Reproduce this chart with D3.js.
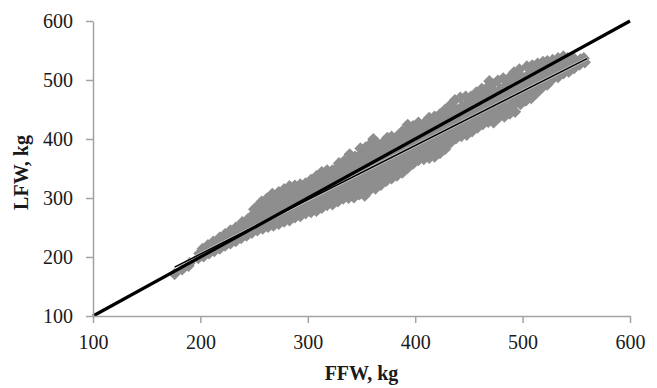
<!DOCTYPE html>
<html>
<head>
<meta charset="utf-8">
<script src="https://cdn.jsdelivr.net/npm/d3@7"></script>
<style>
	body { margin: 0; background: #fff; }
	svg text { font-family: "Liberation Serif", "Times New Roman", serif; fill: #1a1a1a; }
</style>
</head>
<body>
<svg id="scatter" width="657" height="388"></svg>
<script>
var ffw = [
	176,
	183,
	189, 190,
	198, 199,
	203, 204, 202,
	208, 209, 207,
	213, 214, 212,
	218, 219, 217, 218,
	223, 224, 222, 223,
	228, 229, 227, 228,
	233, 234, 232, 233,
	238, 239, 237, 238, 239,
	243, 244, 242, 243, 244,
	248, 249, 247, 248, 249, 250,
	253, 254, 252, 253, 254, 252,
	258, 259, 257, 258, 259, 257,
	263, 264, 262, 263, 264, 262,
	268, 269, 267, 268, 269, 267,
	273, 274, 272, 273, 274, 272, 273,
	278, 279, 277, 278, 279, 277, 278,
	283, 284, 282, 283, 284, 282, 283,
	288, 289, 287, 288, 289, 287, 288,
	293, 294, 292, 293, 294, 292, 293,
	298, 299, 297, 298, 299, 297, 298,
	303, 304, 302, 303, 304, 302, 303,
	308, 309, 307, 308, 309, 307, 308,
	313, 314, 312, 313, 314, 312, 313,
	318, 319, 317, 318, 319, 317, 318,
	323, 324, 322, 323, 324, 322, 323,
	328, 329, 327, 328, 329, 327, 328, 329,
	333, 334, 332, 333, 334, 332, 333, 334,
	338, 339, 337, 338, 339, 337, 338, 339,
	343, 344, 342, 343, 344, 342, 343, 344,
	348, 349, 347, 348, 349, 347, 348, 349,
	353, 354, 352, 353, 354, 352, 353, 354,
	358, 359, 357, 358, 359, 357, 358, 359,
	361,
	363, 364, 362, 363, 364, 362, 363, 364,
	368, 369, 367, 368, 369, 367, 368, 369,
	373, 374, 372, 373, 374, 372, 373, 374,
	378, 379, 377, 378, 379, 377, 378,
	383, 384, 382, 383, 384, 382, 383,
	388, 389, 387, 388, 389, 387, 388,
	393, 394, 392, 393, 394, 392, 393,
	398, 399, 397, 398, 399, 397, 398,
	403, 404, 402, 403, 404, 402, 403,
	408, 409, 407, 408, 409, 407, 408,
	413, 414, 412, 413, 414, 412, 413,
	418, 419, 417, 418, 419, 417, 418,
	423, 424, 422, 423, 424, 422, 423,
	428, 429, 427, 428, 429, 427, 428,
	433, 434, 432, 433, 434, 432, 433,
	438, 439, 437, 438, 439, 437,
	443, 444, 442, 443, 444, 442,
	448, 449, 447, 448, 449, 447,
	453, 454, 452, 453, 454, 452,
	458, 459, 457, 458, 459, 457,
	463, 464, 462, 463, 464, 462,
	469,
	468, 469, 467, 468, 469, 467,
	473, 474, 472, 473, 474, 472,
	478, 479, 477, 478, 479, 477,
	483, 484, 482, 483, 484, 482,
	488, 489, 487, 488, 489, 487,
	493, 494, 492, 493, 494, 492,
	498, 499, 497, 498, 499, 497,
	503, 504, 502, 503, 504,
	508, 509, 507, 508, 509,
	513, 514, 512, 513, 514,
	518, 519, 517, 518, 519,
	523, 524, 522, 523,
	528, 529, 527, 528,
	533, 534, 532, 533,
	538, 539, 537, 538,
	543, 544, 542,
	548, 549, 547,
	553, 554,
	558, 557
];
var lfw = [
	171,
	179,
	185, 190,
	198, 206,
	201, 209, 214,
	206, 213, 220,
	210, 218, 226,
	214, 221, 228, 233,
	219, 226, 233, 239,
	223, 230, 238, 245,
	227, 235, 243, 250,
	232, 240, 247, 254, 259,
	236, 244, 252, 259, 264,
	241, 249, 257, 265, 272, 281,
	245, 253, 262, 270, 278, 284,
	248, 257, 266, 275, 284, 294,
	251, 260, 270, 280, 290, 299,
	253, 263, 273, 284, 295, 307,
	256, 266, 276, 286, 296, 304, 310,
	260, 269, 279, 289, 299, 307, 315,
	262, 273, 283, 293, 302, 310, 320,
	267, 276, 286, 296, 305, 313, 321,
	269, 280, 290, 300, 309, 317, 323,
	274, 283, 293, 303, 312, 320, 325,
	276, 287, 297, 307, 316, 324, 331,
	278, 291, 301, 311, 320, 328, 337,
	283, 294, 304, 314, 324, 333, 344,
	288, 297, 307, 318, 328, 337, 347,
	289, 300, 311, 322, 332, 342, 347,
	294, 303, 314, 325, 335, 345, 352, 359,
	299, 306, 317, 328, 339, 349, 357, 363,
	300, 309, 320, 331, 342, 353, 362, 374,
	301, 312, 323, 334, 346, 357, 367, 370,
	306, 316, 327, 338, 350, 361, 372, 384,
	304, 320, 331, 343, 355, 366, 377, 386,
	314, 324, 335, 347, 359, 370, 381, 393,
	400,
	316, 328, 339, 351, 363, 374, 384, 394,
	322, 332, 344, 356, 368, 379, 389, 392,
	329, 337, 349, 361, 373, 384, 393, 402,
	333, 344, 356, 368, 380, 392, 404,
	338, 350, 362, 374, 386, 397, 404,
	343, 357, 368, 380, 391, 403, 413,
	351, 363, 374, 385, 396, 408, 424,
	358, 368, 379, 390, 401, 412, 422,
	364, 372, 383, 394, 405, 416, 428,
	366, 376, 387, 398, 409, 420, 426,
	368, 380, 391, 402, 413, 424, 436,
	370, 384, 395, 406, 417, 428, 438,
	376, 388, 400, 412, 423, 434, 442,
	383, 393, 405, 417, 429, 440, 450,
	394, 400, 411, 423, 435, 446, 458,
	401, 411, 423, 436, 449, 466,
	405, 418, 430, 443, 456, 470,
	407, 422, 434, 447, 460, 472,
	413, 426, 438, 451, 464, 472,
	419, 430, 442, 455, 468, 479,
	425, 434, 446, 459, 472, 485,
	498,
	429, 440, 452, 464, 476, 487,
	428, 444, 456, 468, 480, 493,
	437, 448, 460, 472, 484, 499,
	438, 451, 464, 477, 490, 503,
	443, 455, 468, 481, 494, 503,
	446, 462, 475, 488, 500, 513,
	459, 469, 481, 494, 506, 518,
	465, 479, 492, 505, 523,
	469, 485, 498, 511, 525,
	478, 491, 503, 515, 528,
	487, 497, 508, 519, 531,
	492, 505, 518, 532,
	502, 512, 524, 534,
	505, 516, 527, 537,
	511, 520, 530, 540,
	514, 526, 537,
	520, 529, 538,
	526, 535,
	530, 537
];
var xTicks = [100, 200, 300, 400, 500, 600];
var yTicks = [100, 200, 300, 400, 500, 600];
var identityLine = [100, 600];
var fitRange = [176, 560];
var fitSlope = 0.92;
var fitIntercept = 21;

var svg = d3.select("svg#scatter"),
	margin = { top: 21, right: 27, bottom: 72, left: 93 },
	width = 657 - margin.left - margin.right,
	height = 388 - margin.top - margin.bottom;

var x = d3.scaleLinear().domain([100, 600]).range([0, width]);
var y = d3.scaleLinear().domain([100, 600]).range([height, 0]);

var g = svg.append("g")
	.attr("transform", "translate(" + margin.left + "," + margin.top + ")");

var points = ffw.map(function(d, i) {
	return { ffw: d, lfw: lfw[i] };
});

var diamond = d3.symbol().type(d3.symbolSquare).size(74);

g.selectAll(".pt")
	.data(points)
	.enter().append("path")
	.attr("class", "pt")
	.attr("d", diamond)
	.attr("transform", function(d) {
		return "translate(" + x(d.ffw) + "," + y(d.lfw) + ") rotate(45)";
	})
	.style("fill", "#8e8e8e");

var line = d3.line()
	.x(function(d) { return x(d[0]); })
	.y(function(d) { return y(d[1]); });

var fitData = fitRange.map(function(d) {
	return [d, fitSlope * d + fitIntercept];
});

// trendline: thin black with a faint light edge
g.append("path")
	.attr("d", line(fitData))
	.style("fill", "none")
	.style("stroke", "#fff")
	.style("stroke-opacity", 0.55)
	.style("stroke-width", 3);

g.append("path")
	.attr("d", line(fitData))
	.style("fill", "none")
	.style("stroke", "#000")
	.style("stroke-width", 1.5);

g.append("path")
	.attr("d", line(identityLine.map(function(d) { return [d, d]; })))
	.style("fill", "none")
	.style("stroke", "#000")
	.style("stroke-width", 3.2);

var xAxis = g.append("g")
	.attr("transform", "translate(0," + height + ")")
	.call(d3.axisBottom(x).tickValues(xTicks).tickSize(7).tickPadding(12).tickSizeOuter(0));

var yAxis = g.append("g")
	.call(d3.axisLeft(y).tickValues(yTicks).tickSize(7).tickPadding(13).tickSizeOuter(0));

[xAxis, yAxis].forEach(function(a) {
	a.selectAll("path, line").style("stroke", "#a3a3a3").style("stroke-width", 1.5);
	a.selectAll("text")
		.style("font-family", "'Liberation Serif', 'Times New Roman', serif")
		.style("font-size", "20px")
		.style("fill", "#1a1a1a");
});

svg.append("text")
	.attr("x", margin.left + width / 2)
	.attr("y", 380)
	.attr("text-anchor", "middle")
	.style("font-size", "20px")
	.style("font-weight", "bold")
	.text("FFW, kg");

svg.append("text")
	.attr("transform", "translate(28," + (margin.top + height / 2 + 4) + ") rotate(-90)")
	.attr("text-anchor", "middle")
	.style("font-size", "20px")
	.style("font-weight", "bold")
	.text("LFW, kg");
</script>
</body>
</html>
